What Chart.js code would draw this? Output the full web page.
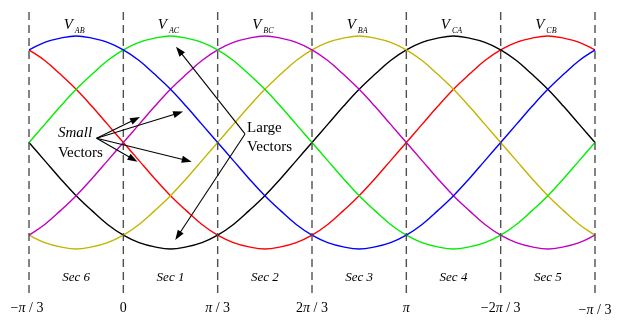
<!DOCTYPE html>
<html>
<head>
<meta charset="utf-8">
<script src="https://cdn.jsdelivr.net/npm/chart.js@4.4.0/dist/chart.umd.min.js"></script>
<style>
  html, body { margin: 0; padding: 0; background: #fff; }
</style>
</head>
<body>
<canvas id="sectores" width="621" height="320"></canvas>
<script>
// angulo electrico en grados
var angulos = [-60, -50, -40, -30, -20, -10, 0, 10, 20, 30, 40, 50, 60, 70, 80, 90, 100, 110, 120,
  130, 140, 150, 160, 170, 180, 190, 200, 210, 220, 230, 240, 250, 260, 270, 280, 290, 300];

// tensiones de linea (p.u.)
var vAB = [.87, .94, .98, 1, .98, .94, .87, .77, .64, .5, .34, .17, 0, -.17, -.34, -.5, -.64, -.77, -.87,
  -.94, -.98, -1, -.98, -.94, -.87, -.77, -.64, -.5, -.34, -.17, 0, .17, .34, .5, .64, .77, .87];
var vAC = [0, .17, .34, .5, .64, .77, .87, .94, .98, 1, .98, .94, .87, .77, .64, .5, .34, .17, 0,
  -.17, -.34, -.5, -.64, -.77, -.87, -.94, -.98, -1, -.98, -.94, -.87, -.77, -.64, -.5, -.34, -.17, 0];
var vBC = [-.87, -.77, -.64, -.5, -.34, -.17, 0, .17, .34, .5, .64, .77, .87, .94, .98, 1, .98, .94, .87,
  .77, .64, .5, .34, .17, 0, -.17, -.34, -.5, -.64, -.77, -.87, -.94, -.98, -1, -.98, -.94, -.87];
var vBA = [-.87, -.94, -.98, -1, -.98, -.94, -.87, -.77, -.64, -.5, -.34, -.17, 0, .17, .34, .5, .64, .77, .87,
  .94, .98, 1, .98, .94, .87, .77, .64, .5, .34, .17, 0, -.17, -.34, -.5, -.64, -.77, -.87];
var vCA = [0, -.17, -.34, -.5, -.64, -.77, -.87, -.94, -.98, -1, -.98, -.94, -.87, -.77, -.64, -.5, -.34, -.17, 0,
  .17, .34, .5, .64, .77, .87, .94, .98, 1, .98, .94, .87, .77, .64, .5, .34, .17, 0];
var vCB = [.87, .77, .64, .5, .34, .17, 0, -.17, -.34, -.5, -.64, -.77, -.87, -.94, -.98, -1, -.98, -.94, -.87,
  -.77, -.64, -.5, -.34, -.17, 0, .17, .34, .5, .64, .77, .87, .94, .98, 1, .98, .94, .87];

// limites de sector y etiquetas
var limites = [-60, 0, 60, 120, 180, 240, 300];
var etiquetasEje = ['\u2212\u03c0 / 3', '0', '\u03c0 / 3', '2\u03c0 / 3', '\u03c0', '\u22122\u03c0 / 3', '\u2212\u03c0 / 3'];
var centrosSector = [-30, 30, 90, 150, 210, 270];
var sectores = ['Sec 6', 'Sec 1', 'Sec 2', 'Sec 3', 'Sec 4', 'Sec 5'];
var subindices = ['AB', 'AC', 'BC', 'BA', 'CA', 'CB'];

function serie(valores) {
  return valores.map(function(v, i) { return { x: angulos[i], y: v }; });
}

var curvas = [
  { data: vAB, color: '#0000ff' },
  { data: vAC, color: '#00ee00' },
  { data: vBC, color: '#c000c0' },
  { data: vBA, color: '#c4b400' },
  { data: vCA, color: '#000000' },
  { data: vCB, color: '#ff0000' }
];

var datasets = [];
limites.forEach(function(a) {
  datasets.push({
    data: [{ x: a, y: 1.225 }, { x: a, y: -1.44 }],
    borderColor: '#505050',
    borderWidth: 1.4,
    borderDash: [8, 5],
    pointRadius: 0,
    showLine: true
  });
});
curvas.forEach(function(c) {
  datasets.push({
    data: serie(c.data),
    borderColor: c.color,
    borderWidth: 1.4,
    pointRadius: 0,
    showLine: true,
    tension: 0.4
  });
});

// flechas de anotacion (grados, p.u.)
var flechasPequenos = [[10.6, 0.24], [38, 0.29], [9, -0.18], [43.5, -0.18]];
var origenPequenos = [-17, 0.04];
var verticeGrandes = [77.4, 0.08];
var flechasGrandes = [[33.5, 0.9], [33, -0.915]];

function flecha(ctx, x0, y0, x1, y1) {
  var ang = Math.atan2(y1 - y0, x1 - x0);
  var L = 10, W = 3.5;
  ctx.beginPath();
  ctx.moveTo(x0, y0);
  ctx.lineTo(x1 - L * 0.8 * Math.cos(ang), y1 - L * 0.8 * Math.sin(ang));
  ctx.stroke();
  ctx.beginPath();
  ctx.moveTo(x1, y1);
  ctx.lineTo(x1 - L * Math.cos(ang) + W * Math.sin(ang), y1 - L * Math.sin(ang) - W * Math.cos(ang));
  ctx.lineTo(x1 - L * Math.cos(ang) - W * Math.sin(ang), y1 - L * Math.sin(ang) + W * Math.cos(ang));
  ctx.closePath();
  ctx.fill();
}

// texto con la pi en cursiva
function textoMixto(ctx, txt, cx, cy, size) {
  var partes = txt.split(/(\u03c0)/).filter(function(p) { return p.length; });
  var fuentes = partes.map(function(p) {
    return (p === '\u03c0' ? 'italic ' : '') + size + 'px "Liberation Serif"';
  });
  var total = 0;
  partes.forEach(function(p, i) { ctx.font = fuentes[i]; total += ctx.measureText(p).width; });
  var x = cx - total / 2;
  ctx.textAlign = 'left';
  partes.forEach(function(p, i) {
    ctx.font = fuentes[i];
    ctx.fillText(p, x, cy);
    x += ctx.measureText(p).width;
  });
}

var anotaciones = {
  id: 'anotaciones',
  afterDatasetsDraw: function(chart) {
    var ctx = chart.ctx;
    var sx = chart.scales.x, sy = chart.scales.y;
    var px = function(v) { return sx.getPixelForValue(v); };
    var py = function(v) { return sy.getPixelForValue(v); };
    ctx.save();
    ctx.fillStyle = '#000';
    ctx.strokeStyle = '#000';
    ctx.textBaseline = 'middle';

    // V_xy arriba de cada sector
    centrosSector.forEach(function(c, i) {
      ctx.font = 'italic 15px "Liberation Serif"';
      var wV = ctx.measureText('V').width;
      ctx.font = 'italic 8px "Liberation Serif"';
      var wS = ctx.measureText(subindices[i]).width;
      var x0 = px(c) - (wV + wS + 2) / 2 - 2;
      ctx.textAlign = 'left';
      ctx.font = 'italic 15px "Liberation Serif"';
      ctx.fillText('V', x0, py(1.1));
      ctx.font = 'italic 8px "Liberation Serif"';
      ctx.fillText(subindices[i], x0 + wV + 2, py(1.05));
    });

    // nombre de sector
    ctx.textAlign = 'center';
    ctx.font = 'italic 13px "Liberation Serif"';
    centrosSector.forEach(function(c, i) {
      ctx.fillText(sectores[i], px(c), py(-1.265));
    });

    // etiquetas del eje
    limites.forEach(function(a, i) {
      var yy = py(-1.56) + (i === limites.length - 1 ? 2 : 0);
      textoMixto(ctx, etiquetasEje[i], px(a) - (i === 0 ? 2 : 0), yy, 14);
    });

    // vectores pequenos
    ctx.font = 'italic 15px "Liberation Serif"';
    ctx.textAlign = 'left';
    ctx.fillText('Small', px(-41.6), py(0.085));
    ctx.font = '15px "Liberation Serif"';
    ctx.fillText('Vectors', px(-41.6), py(-0.1));
    ctx.lineWidth = 1.1;
    flechasPequenos.forEach(function(f) {
      flecha(ctx, px(origenPequenos[0]), py(origenPequenos[1]), px(f[0]), py(f[1]));
    });

    // vectores grandes
    ctx.fillText('Large', px(78.7), py(0.14));
    ctx.fillText('Vectors', px(78.7), py(-0.04));
    flechasGrandes.forEach(function(f) {
      flecha(ctx, px(verticeGrandes[0]), py(verticeGrandes[1]), px(f[0]), py(f[1]));
    });
    ctx.restore();
  }
};

new Chart(document.getElementById('sectores'), {
  type: 'scatter',
  data: { datasets: datasets },
  options: {
    responsive: false,
    animation: false,
    layout: { padding: 0 },
    clip: false,
    plugins: { legend: { display: false }, tooltip: { enabled: false } },
    scales: {
      x: { type: 'linear', min: -78.45, max: 316.54, display: false },
      y: { type: 'linear', min: -1.667, max: 1.338, display: false }
    }
  },
  plugins: [anotaciones]
});
</script>
</body>
</html>
